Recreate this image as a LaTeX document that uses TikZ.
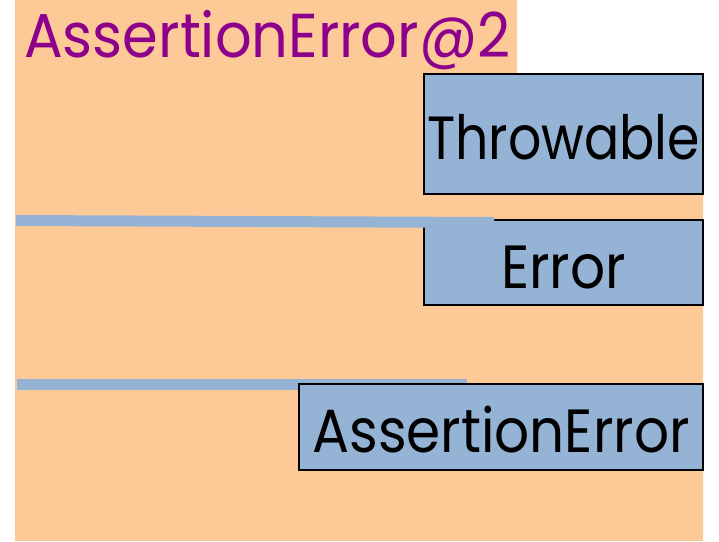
\documentclass[tikz,border=0pt]{standalone}
\usepackage{fontspec}
\usepackage{graphicx}
\setmainfont{Poppins}[FakeStretch=0.9]
\definecolor{peach}{RGB}{253,202,151}
\definecolor{steel}{RGB}{149,179,213}
\definecolor{plum}{RGB}{140,0,140}
\begin{document}
\begin{tikzpicture}[x=1pt,y=-1pt,
  classbox/.style={draw=black, line width=2pt, fill=steel, inner sep=0pt,
    font=\fontsize{61}{61}\selectfont, text height=51pt, text depth=0pt},
  band/.style={draw=none, fill=steel}
]
\useasboundingbox (0,0) rectangle (719,541);
% peach backdrop with the title tab
\fill[peach] (15,0) -- (517,0) -- (517,73) -- (703,73) -- (703,541) -- (15,541) -- cycle;
\node[anchor=base west, inner sep=0pt, text=plum, font=\fontsize{62}{62}\selectfont] (title) at (24,57) {\scalebox{1.03}[1]{AssertionError@2}};

% lower band sits behind its box
\coordinate (b2a) at (17,379);
\coordinate (b2b) at (467,379);
\fill[band] (b2a) -- (b2b) -- ++(0,11) -- (17,390) -- cycle;

\node[classbox, minimum width=279pt, minimum height=120pt] (thr) at (563.5,134) {\scalebox{0.95}[1]{Throwable}};
\node[classbox, minimum width=279pt, minimum height=85pt] (err) at (563.5,262.5) {Error};
\node[classbox, minimum width=404pt, minimum height=86pt] (ae) at (501,427) {AssertionError};

% upper band lies over the top of the Error box
\coordinate (b1a) at (16,215);
\coordinate (b1b) at (494,217);
\fill[band] (b1a) -- (b1b) -- (494,228) -- (16,226) -- cycle;
\end{tikzpicture}
\end{document}
